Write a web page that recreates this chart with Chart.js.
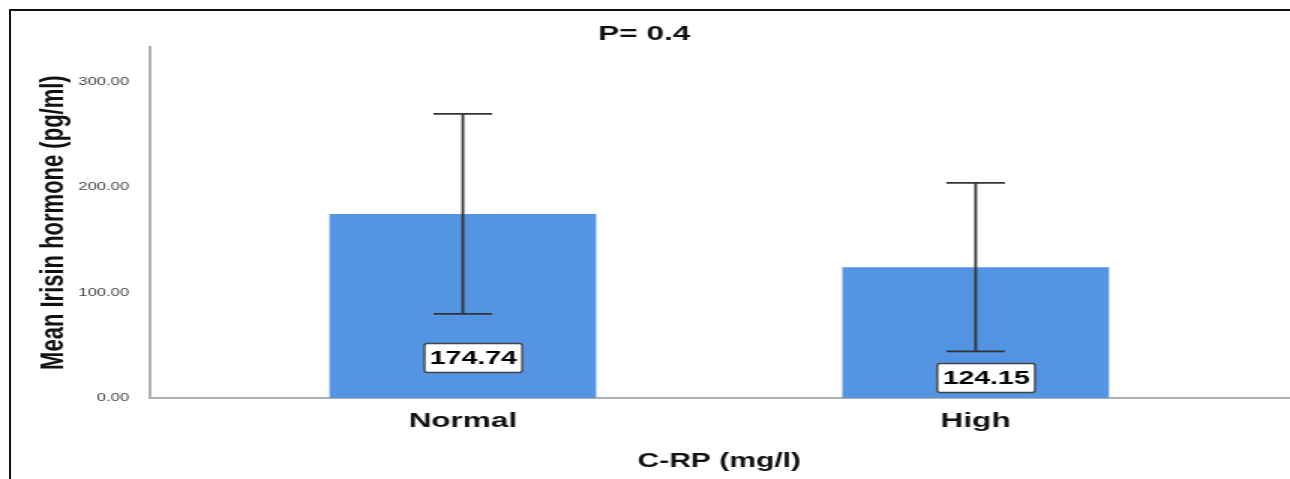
<!DOCTYPE html>
<html>
<head>
<meta charset="utf-8">
<script src="https://cdn.jsdelivr.net/npm/chart.js@4.4.1/dist/chart.umd.min.js"></script>
<style>
  html, body { margin: 0; padding: 0; background: #fff; overflow: hidden; }
  body { width: 1290px; height: 479px; position: relative; }
  /* the source picture is stretched sideways, so the canvas is too */
  #chart { position: absolute; left: 0; top: 0; transform: scaleX(1.5); transform-origin: 0 0; }
  #frame { position: absolute; left: 9px; top: 9px; right: 0; bottom: 0;
           border-left: 2px solid #111; border-top: 2px solid #111; pointer-events: none; }
</style>
</head>
<body>
<canvas id="chart" width="860" height="479"></canvas>
<div id="frame"></div>
<script>
// Chart data
const categories = ['Normal', 'High'];
const meanValues = [174.74, 124.15];
const errorUpper = [269.7, 204.2];
const errorLower = [79.8, 44.2];
const yTicks = [0, 100, 200, 300];
const yMax = 333;

// Styles
const FONT = 'Arial, "Liberation Sans", sans-serif';
const BAR_COLOR = '#5394e3';
const AXIS_COLOR = '#b0b0b0';
const labelLift = [40, 20]; // px above the axis for each value box
const labelShift = 7; // px right of the bar centre

/**
 * Error bars with caps
 */
const errorBarPlugin = {
  id: 'errorBars',
  afterDatasetsDraw(chart) {
    const ctx = chart.ctx;
    const y = chart.scales.y;
    const meta = chart.getDatasetMeta(0);
    ctx.save();
    ctx.strokeStyle = '#333';
    ctx.lineWidth = 1.8;
    meta.data.forEach((bar, i) => {
      const top = y.getPixelForValue(errorUpper[i]);
      const bottom = y.getPixelForValue(errorLower[i]);
      const half = 19.5;
      ctx.beginPath();
      ctx.moveTo(bar.x, top);
      ctx.lineTo(bar.x, bottom);
      ctx.moveTo(bar.x - half, top);
      ctx.lineTo(bar.x + half, top);
      ctx.moveTo(bar.x - half, bottom);
      ctx.lineTo(bar.x + half, bottom);
      ctx.stroke();
    });
    ctx.restore();
  },
};

/**
 * Boxed value labels
 */
const valueLabelPlugin = {
  id: 'valueLabels',
  afterDraw(chart) {
    const ctx = chart.ctx;
    const base = chart.scales.y.getPixelForValue(0);
    const meta = chart.getDatasetMeta(0);
    ctx.save();
    ctx.font = 'bold 19px ' + FONT;
    ctx.textAlign = 'center';
    ctx.textBaseline = 'middle';
    meta.data.forEach((bar, i) => {
      const text = meanValues[i].toFixed(2);
      const cx = bar.x + labelShift;
      const cy = base - labelLift[i];
      const w = ctx.measureText(text).width + 7;
      const h = 29;
      ctx.fillStyle = '#fff';
      ctx.strokeStyle = '#444';
      ctx.lineWidth = 1.4;
      ctx.beginPath();
      ctx.roundRect(cx - w / 2, cy - h / 2, w, h, 2);
      ctx.fill();
      ctx.stroke();
      ctx.fillStyle = '#000';
      ctx.fillText(text, cx, cy + 1);
    });
    ctx.restore();
  },
};

new Chart(document.getElementById('chart'), {
  type: 'bar',
  data: {
    datasets: [
      {
        data: meanValues.map((v, i) => ({ x: i, y: v })),
        backgroundColor: BAR_COLOR,
        borderWidth: 0,
        barPercentage: 0.52,
        categoryPercentage: 1,
      },
    ],
  },
  options: {
    responsive: false,
    animation: false,
    events: [],
    layout: { padding: { left: 0, right: 1, top: 0, bottom: 0 } },
    plugins: {
      legend: { display: false },
      tooltip: { enabled: false },
      title: {
        display: true,
        text: 'P= 0.4',
        color: '#111',
        font: { family: FONT, size: 21, weight: 'bold' },
        padding: { top: 22, bottom: 0 },
      },
    },
    scales: {
      x: {
        type: 'linear',
        offset: false,
        min: -0.61,
        max: 1.61,
        grid: { display: false },
        border: { display: true, color: AXIS_COLOR, width: 2 },
        afterBuildTicks: (scale) => {
          scale.ticks = categories.map((c, i) => ({ value: i }));
        },
        afterFit: (scale) => {
          scale.height = 81;
        },
        ticks: {
          color: '#111',
          padding: 3,
          font: { family: FONT, size: 21, weight: 'bold' },
          callback: (v) => categories[v],
        },
        title: {
          display: true,
          text: 'C-RP (mg/l)',
          color: '#111',
          font: { family: FONT, size: 20, weight: 'bold' },
          padding: { top: 0, bottom: 6 },
        },
      },
      y: {
        min: 0,
        max: yMax,
        grid: { display: false },
        border: { display: true, color: AXIS_COLOR, width: 2 },
        afterBuildTicks: (scale) => {
          scale.ticks = yTicks.map((v) => ({ value: v }));
        },
        afterFit: (scale) => {
          scale.width = 100;
        },
        ticks: {
          color: '#444',
          padding: 6,
          font: { family: FONT, size: 11 },
          callback: (v) => v.toFixed(2),
        },
        title: {
          display: true,
          text: 'Mean Irisin hormone (pg/ml)',
          color: '#111',
          font: { family: FONT, size: 22, weight: 'bold' },
          padding: { top: 23, bottom: 0 },
        },
      },
    },
  },
  plugins: [errorBarPlugin, valueLabelPlugin],
});
</script>
</body>
</html>
